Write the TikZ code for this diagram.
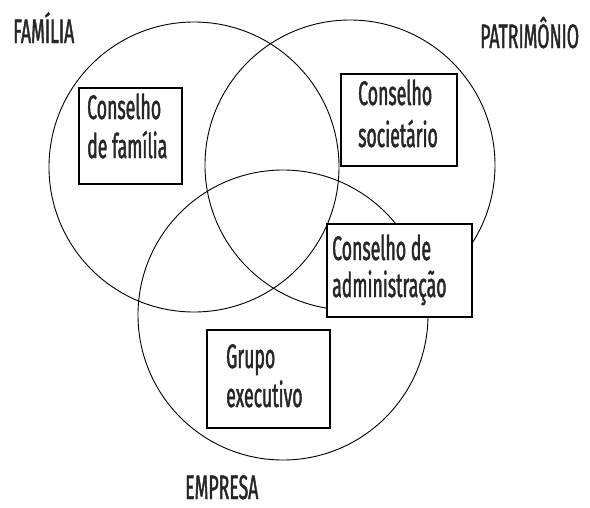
\documentclass[tikz,border=0pt]{standalone}
\usepackage{fontspec}
\setmainfont[FakeStretch=0.52,FakeBold=1.2]{Fira Sans}
\begin{document}
\begin{tikzpicture}[x=1pt,y=-1pt,
  ring/.style={circle,draw=black,line width=0.9pt,minimum size=290pt,inner sep=0pt},
  boxn/.style={draw=black,fill=white,line width=1.3pt,rectangle,inner sep=0pt},
  txt/.style={anchor=base west,inner sep=0pt,text=black!85,font=\fontsize{34}{40}\selectfont},
  lbl/.style={anchor=base west,inner sep=0pt,text=black!85,font=\fontsize{34}{40}\selectfont}]
\useasboundingbox (0,0) rectangle (590,507);
% circles
\node[ring] (fam) at (194,167) {};
\node[ring] (pat) at (350,165) {};
\node[ring] (emp) at (283,315) {};
% boxes
\node[boxn,minimum width=103pt,minimum height=96pt] (bfam) at (130.5,136) {};
\node[boxn,minimum width=116pt,minimum height=92pt] (bsoc) at (399,120) {};
\node[boxn,minimum width=145pt,minimum height=93pt] (badm) at (399.5,270.5) {};
\node[boxn,minimum width=123pt,minimum height=98pt] (bexe) at (268.5,379) {};
% box texts
\node[txt] (t1a) at (87,119) {Conselho};
\node[txt] (t1b) at (87,158) {de família};
\node[txt] (t2a) at (358,105) {Conselho};
\node[txt] (t2b) at (358,147) {societário};
\node[txt] (t3a) at (332,260) {Conselho de};
\node[txt] (t3b) at (332,297) {administração};
\node[txt] (t4a) at (226,368) {Grupo};
\node[txt] (t4b) at (226,407) {executivo};
% circle labels
\node[lbl] (lfam) at (13,43) {FAMÍLIA};
\node[lbl] (lpat) at (480,48) {PATRIMÔNIO};
\node[lbl] (lemp) at (185,499) {EMPRESA};
\end{tikzpicture}
\end{document}
